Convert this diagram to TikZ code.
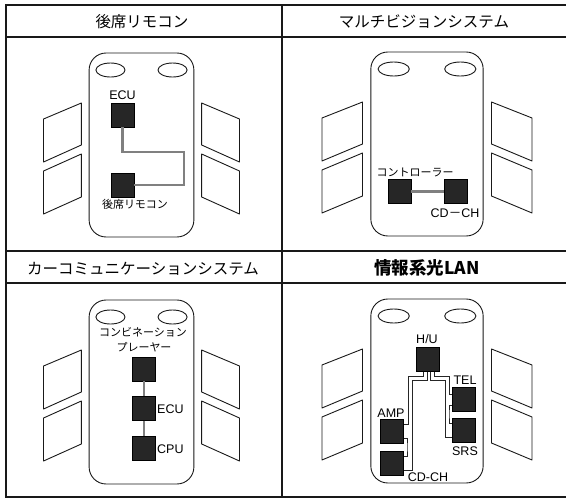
\documentclass[tikz,border=0pt]{standalone}
\usepackage{fontspec}
\setmainfont{Liberation Sans}
\newfontfamily\jp{Noto Sans CJK JP}
\begin{document}
\begin{tikzpicture}[x=1pt,y=-1pt,
  frame/.style={draw=black!90, line width=1.2pt},
  body/.style={draw=black!90, line width=0.9pt, rounded corners=17pt},
  seat/.style={draw=black!90, line width=0.9pt},
  wing/.style={draw=black!90, line width=0.9pt, line join=round},
  box/.style={draw=black, fill=black!85, minimum width=23pt, minimum height=24pt, inner sep=0pt},
  wire/.style={draw=black!50, line width=2.2pt},
  fiber/.style={draw=black!85, line width=0.8pt},
  title/.style={font=\jp\fontsize{15.5}{17}\selectfont, inner sep=0pt},
  lbl/.style={font=\fontsize{12.5}{14}\selectfont, inner sep=0pt},
  jlbl/.style={font=\jp\fontsize{11}{13}\selectfont, inner sep=0pt},
  car/.pic={
    % body outline and the two front seats
    \draw[body] (-54,0) rectangle (54,184);
    \draw[seat] (-32,17) ellipse [x radius=15, y radius=7];
    \draw[seat] (32,17) ellipse [x radius=15, y radius=7];
    % speaker panels on both sides
    \draw[wing] (-62,50) -- (-101,66) -- (-101,109) -- (-62,92) -- cycle;
    \draw[wing] (-62,101) -- (-101,118) -- (-101,161) -- (-62,144) -- cycle;
    \draw[wing] (62,50) -- (101,66) -- (101,109) -- (62,92) -- cycle;
    \draw[wing] (62,101) -- (101,118) -- (101,161) -- (62,144) -- cycle;
  }
]
\useasboundingbox (0,0) rectangle (566,499);

% table frame
\draw[frame] (566,5) -- (6,5) -- (6,497) -- (566,497);
\draw[frame] (6,37) -- (566,37);
\draw[frame] (6,251) -- (566,251);
\draw[frame] (6,283) -- (566,283);
\draw[frame] (282,5) -- (282,497);

% headings
\node[title] (t1) at (142,22) {後席リモコン};
\node[title] (t2) at (424,22) {マルチビジョンシステム};
\node[title] (t3) at (143,269) {カーコミュニケーションシステム};
\node[title, font=\jp\bfseries\fontsize{17.5}{19}\selectfont] (t4) at (427,268) {情報系光LAN};

% rear remote control
\pic[xscale=0.97] at (141.5,53) {car};
\node[box] (ecu1) at (122.5,115) {};
\node[lbl] (ecu1l) at (122.5,95) {ECU};
\node[box] (rem1) at (122.5,185) {};
\node[jlbl] (rem1l) at (135,204) {後席リモコン};
\coordinate (k1) at (184,152);
\draw[wire] (ecu1.south) |- (k1) |- (rem1.east);

% multi-vision system
\pic[xscale=1.04] at (427,52) {car};
\node[box] (ctl) at (399.5,191.5) {};
\node[box] (chg) at (456,191.5) {};
\node[jlbl] (ctll) at (415,172) {コントローラー};
\node[lbl] (chgl) at (455,213) {CD{\jp －}CH};
\draw[wire] (ctl) -- (chg);

% car communication system
\pic[xscale=0.97] at (141.5,300) {car};
\node[box] (cmb) at (144,369) {};
\node[box] (ecu3) at (144,408.5) {};
\node[box] (cpu) at (144,448.5) {};
\draw[wire] (cmb) -- (ecu3);
\draw[wire] (ecu3) -- (cpu);
\node[jlbl] (cmbl1) at (143,332) {コンビネーション};
\node[jlbl] (cmbl2) at (144,347) {プレーヤー};
\node[lbl, anchor=west] (ecu3l) at (157,409) {ECU};
\node[lbl, anchor=west] (cpul) at (157,449) {CPU};

% optical information LAN
\pic[xscale=1.04] at (427,299) {car};
\node[box] (hu) at (428,359.5) {};
\node[box] (tel) at (464,399) {};
\node[box] (srs) at (464,430.5) {};
\node[box] (amp) at (392,431) {};
\node[box] (cd) at (392,463) {};
\node[lbl] (hul) at (427,339) {H/U};
\node[lbl] (tell) at (465,380) {TEL};
\node[lbl] (srsl) at (465,451) {SRS};
\node[lbl] (ampl) at (391,413) {AMP};
\node[lbl] (cdl) at (428,477) {CD-CH};
\coordinate (la) at (408,376);
\coordinate (lb) at (412,380);
\coordinate (lc) at (407,447);
\coordinate (ra) at (449,376);
\coordinate (rb) at (445,380);
\coordinate (rc) at (449,414);
\draw[fiber] ([xshift=-5pt]hu.south) |- (la) |- ([yshift=7pt]amp.east);
\draw[fiber] ([xshift=-1pt]hu.south) |- (lb) |- ([yshift=-7pt]cd.east);
\draw[fiber] ([yshift=-7pt]amp.east) -| (lc) |- ([yshift=7pt]cd.east);
\draw[fiber] ([xshift=6pt]hu.south) |- (ra) |- ([yshift=5pt]tel.west);
\draw[fiber] ([xshift=2pt]hu.south) |- (rb) |- ([yshift=-7pt]srs.west);
\draw[fiber] ([yshift=-6pt]tel.west) -| (rc) |- ([yshift=7pt]srs.west);
\end{tikzpicture}
\end{document}
